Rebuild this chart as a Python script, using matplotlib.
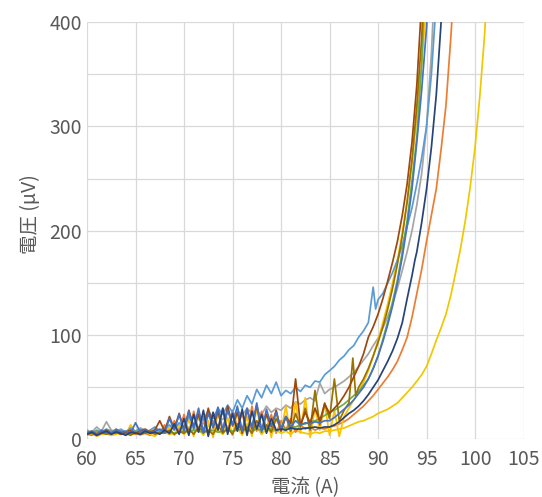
import numpy as np
import matplotlib
matplotlib.use("Agg")
import matplotlib.pyplot as plt
from matplotlib.ticker import MultipleLocator

plt.rcParams['font.family'] = ['Noto Sans CJK JP', 'DejaVu Sans']

# --- data: current (A) vs voltage (uV) ---
# low-current part is sampled every 0.5 A from 60 to 85 A
current_low = np.arange(60.0, 85.01, 0.5)

lightblue_low = [8, 6, 9, 7, 10, 8, 6, 9, 7, 11,
                 8, 10, 7, 9, 12, 8, 11, 14, 10, 16,
                 12, 22, 14, 25, 18, 28, 20, 30, 24, 33,
                 26, 38, 30, 42, 34, 48, 40, 52, 44, 55,
                 42, 47, 44, 50, 46, 52, 50, 56, 55, 62, 66]
lightblue_hi_x = [85.5, 86, 86.5, 87, 87.5, 88, 88.5, 89, 89.5, 89.75, 90, 90.5, 91, 91.5,
                  92, 92.5, 93, 93.5, 94, 94.5, 95, 95.5, 96]
lightblue_hi_y = [70, 76, 80, 86, 90, 98, 104, 112, 146, 125, 134, 140, 150, 160,
                  172, 186, 204, 222, 245, 270, 300, 350, 420]

orange_low = [5, 4, 7, 5, 6, 4, 8, 5, 6, 7,
              5, 8, 6, 4, 9, 6, 14, 5, 18, 8,
              24, 6, 27, 9, 22, 4, 26, 10, 30, 7,
              28, 12, 25, 5, 32, 8, 27, 11, 24, 6,
              18, 9, 20, 7, 14, 10, 12, 9, 11, 10, 12]
orange_hi_x = [85.5, 86, 86.5, 87, 87.5, 88, 88.5, 89, 89.5, 90, 90.5, 91, 91.5, 92, 92.5,
               93, 93.5, 94, 94.5, 95, 95.5, 96, 96.5, 97, 97.5, 97.8]
orange_hi_y = [13, 15, 17, 20, 24, 28, 32, 37, 42, 48, 54, 60, 67, 75, 86,
               98, 117, 140, 163, 190, 215, 240, 278, 320, 385, 430]

gray_low = [9, 7, 12, 8, 17, 9, 8, 10, 7, 9,
            8, 11, 9, 7, 10, 8, 9, 12, 10, 14,
            11, 18, 13, 20, 15, 24, 17, 22, 19, 26,
            21, 28, 23, 30, 25, 27, 24, 32, 26, 30,
            28, 33, 30, 36, 34, 38, 40, 37, 54, 44, 48]
gray_hi_x = [85.5, 86, 86.5, 87, 87.5, 88, 88.5, 89, 89.5, 90, 90.5, 91, 91.5, 92, 92.5,
             93, 93.5, 94, 94.5, 95, 95.5, 95.8]
gray_hi_y = [50, 53, 56, 60, 64, 70, 76, 82, 90, 97, 107, 118, 130, 145, 162,
             180, 200, 225, 255, 300, 370, 430]

gold_low = [4, 6, 3, 5, 7, 4, 5, 8, 5, 14,
            6, 4, 7, 5, 3, 8, 6, 12, 4, 15,
            5, 20, 3, 24, 6, 18, 2, 26, 8, 21,
            4, 28, 6, 22, 3, 30, 5, 25, 2, 27,
            8, 32, 3, 36, 6, 40, 2, 30, 9, 34, 4]
gold_hi_x = [85.5, 86, 86.5, 87, 87.5, 88, 88.5, 89, 89.5, 90, 90.5, 91, 91.5, 92, 92.5,
             93, 93.5, 94, 94.5, 95]
gold_hi_y = [28, 3, 22, 30, 38, 46, 55, 66, 80, 95, 112, 130, 150, 172, 198,
             228, 265, 310, 360, 420]

blue_low = [6, 8, 5, 9, 7, 6, 10, 7, 8, 6,
            16, 7, 9, 6, 8, 10, 7, 20, 9, 24,
            8, 27, 10, 30, 6, 25, 12, 31, 9, 28,
            14, 32, 8, 30, 11, 35, 7, 29, 13, 26,
            10, 22, 12, 18, 14, 16, 15, 17, 16, 18, 18]
blue_hi_x = [85.5, 86, 86.5, 87, 87.5, 88, 88.5, 89, 89.5, 90, 90.5, 91, 91.5, 92, 92.5,
             93, 93.5, 94, 94.5, 95, 95.2]
blue_hi_y = [21, 25, 29, 33, 38, 44, 50, 58, 68, 80, 94, 110, 128, 150, 175,
             205, 240, 285, 335, 395, 430]

green_low = [7, 6, 8, 7, 6, 8, 7, 5, 7, 6,
             8, 7, 6, 8, 7, 6, 7, 8, 6, 7,
             8, 7, 9, 8, 7, 8, 9, 7, 8, 9,
             8, 9, 10, 9, 8, 10, 9, 11, 10, 9,
             10, 11, 12, 12, 14, 15, 17, 18, 20, 23, 26]
green_hi_x = [85.5, 86, 86.5, 87, 87.5, 88, 88.5, 89, 89.5, 90, 90.5, 91, 91.5, 92, 92.5,
              93, 93.5, 94, 94.5, 94.8]
green_hi_y = [28, 31, 34, 38, 42, 46, 52, 58, 68, 80, 96, 113, 132, 153, 180,
              210, 248, 290, 360, 430]

darkblue_low = [5, 7, 4, 6, 8, 5, 7, 6, 4, 7,
                6, 5, 8, 6, 7, 5, 9, 6, 15, 5,
                20, 4, 24, 7, 28, 3, 26, 9, 30, 5,
                25, 8, 29, 4, 27, 10, 24, 6, 20, 9,
                10, 9, 11, 10, 10, 11, 11, 12, 11, 12, 12]
darkblue_hi_x = [85.5, 86, 86.5, 87, 87.5, 88, 88.5, 89, 89.5, 90, 90.5, 91, 91.5, 92, 92.5,
                 93, 93.5, 93.8, 94, 94.5, 95, 95.5, 96, 96.5, 96.7]
darkblue_hi_y = [14, 17, 21, 25, 28, 32, 37, 43, 50, 57, 66, 75, 85, 97, 112,
                 135, 157, 172, 180, 208, 240, 280, 330, 400, 430]

brown_low = [6, 8, 5, 7, 9, 6, 8, 5, 7, 9,
             6, 8, 10, 7, 9, 18, 8, 22, 10, 25,
             9, 28, 12, 24, 7, 30, 11, 27, 8, 32,
             13, 26, 6, 29, 10, 33, 9, 24, 12, 28,
             8, 22, 15, 58, 14, 26, 16, 30, 18, 34, 25]
brown_hi_x = [85.5, 86, 86.5, 87, 87.5, 88, 88.5, 89, 89.5, 90, 90.5, 91, 91.5, 92, 92.5,
              93, 93.5, 94, 94.5]
brown_hi_y = [30, 35, 42, 50, 60, 70, 82, 98, 108, 120, 135, 152, 170, 190, 215,
              245, 285, 340, 420]

olive_low = [5, 6, 4, 7, 5, 6, 8, 5, 6, 4,
             7, 5, 6, 8, 5, 7, 6, 9, 5, 8,
             6, 10, 5, 12, 7, 9, 5, 14, 6, 11,
             5, 15, 8, 12, 6, 18, 9, 14, 7, 20,
             10, 22, 8, 25, 12, 30, 9, 47, 14, 35, 20]
olive_hi_x = [85.5, 86, 86.5, 87, 87.4, 87.7, 88, 88.5, 89, 89.5, 90, 90.5, 91, 91.5, 92,
              92.5, 93, 93.5, 94, 94.5, 94.7]
olive_hi_y = [58, 18, 28, 35, 78, 42, 50, 58, 68, 80, 93, 108, 125, 145, 168,
              195, 228, 268, 320, 385, 430]

yellow_low = [6, 5, 7, 6, 5, 8, 6, 5, 7, 6,
              5, 7, 6, 5, 8, 6, 7, 5, 6, 9,
              5, 12, 6, 10, 4, 14, 6, 9, 5, 13,
              7, 11, 4, 15, 6, 12, 5, 10, 7, 9,
              6, 8, 5, 9, 7, 6, 5, 7, 6, 8, 8]
yellow_hi_x = [85.5, 86, 86.5, 87, 87.5, 88, 88.5, 89, 89.5, 90, 90.5, 91, 91.5, 92, 92.5,
               93, 93.5, 94, 94.5, 95, 95.5, 96, 96.5, 97, 97.5, 98, 98.5, 99, 99.5,
               100, 100.5, 101, 101.2]
yellow_hi_y = [9, 10, 11, 13, 15, 17, 18, 20, 22, 25, 27, 29, 32, 35, 40,
               45, 50, 56, 62, 70, 82, 95, 107, 120, 138, 160, 183, 210, 242,
               280, 330, 390, 430]

# drawing order and colours (Excel palette)
series = [
    (yellow_low, yellow_hi_x, yellow_hi_y, '#F0C800'),
    (gray_low, gray_hi_x, gray_hi_y, '#A5A5A5'),
    (orange_low, orange_hi_x, orange_hi_y, '#ED7D31'),
    (gold_low, gold_hi_x, gold_hi_y, '#FFC000'),
    (lightblue_low, lightblue_hi_x, lightblue_hi_y, '#5B9BD5'),
    (green_low, green_hi_x, green_hi_y, '#70AD47'),
    (olive_low, olive_hi_x, olive_hi_y, '#997300'),
    (brown_low, brown_hi_x, brown_hi_y, '#9E480E'),
    (blue_low, blue_hi_x, blue_hi_y, '#4472C4'),
    (darkblue_low, darkblue_hi_x, darkblue_hi_y, '#264478'),
]

fig = plt.figure(figsize=(5.42, 4.97), dpi=100)
ax = fig.add_axes([0.1605, 0.1157, 0.8055, 0.84])

for low, hx, hy, col in series:
    x = np.concatenate([current_low, hx])
    y = np.concatenate([low, hy])
    ax.plot(x, y, color=col, lw=1.25)

ax.set_xlim(60, 105)
ax.set_ylim(0, 400)
ax.xaxis.set_major_locator(MultipleLocator(5))
ax.yaxis.set_major_locator(MultipleLocator(100))
ax.yaxis.set_minor_locator(MultipleLocator(50))
ax.grid(True, which='major', color='#D9D9D9', lw=0.9)
ax.grid(True, which='minor', axis='y', color='#D9D9D9', lw=0.9)
ax.set_axisbelow(True)
for s in ax.spines.values():
    s.set_visible(False)
ax.tick_params(which='both', length=0, labelsize=14, labelcolor='#595959')
ax.tick_params(axis='x', pad=7)
ax.tick_params(axis='y', pad=3.5)

ax.set_xlabel('電流 (A)', fontsize=14, color='#595959', labelpad=5)
ax.set_ylabel('電圧 (μV)', fontsize=14, color='#595959')
ax.yaxis.set_label_coords(-0.105, 0.54)

fig.savefig('out.png', dpi=100)
